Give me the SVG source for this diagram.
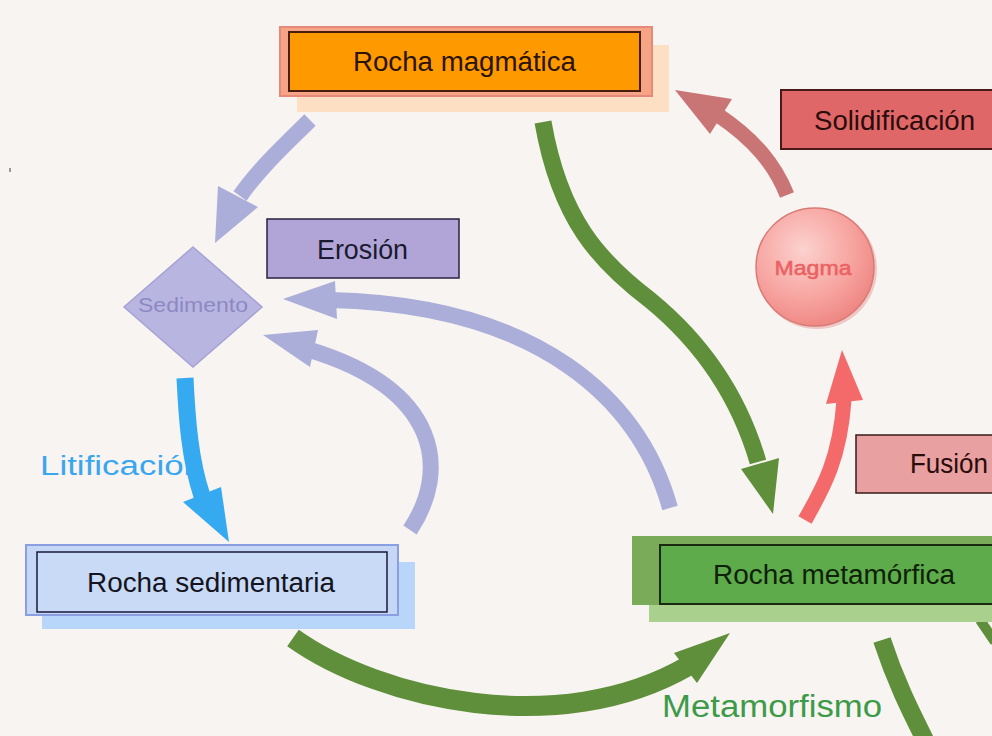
<svg xmlns="http://www.w3.org/2000/svg" width="992" height="736" viewBox="0 0 992 736">
<defs>
<style>
.t{font-family:"Liberation Sans",Arial,sans-serif;font-size:27px;fill:#161616}
.lav{fill:none;stroke:#aaaed9;stroke-width:16}
.lavh{fill:#aaaed9}
.grn{fill:none;stroke:#5f8f3a;stroke-width:18}
.grnh{fill:#5f8f3a}
</style>
<radialGradient id="mg" cx="0.4" cy="0.35" r="0.7">
<stop offset="0" stop-color="#fcd2ce"/>
<stop offset="0.6" stop-color="#f7a4a0"/>
<stop offset="1" stop-color="#ee8480"/>
</radialGradient>
</defs>
<rect width="992" height="736" fill="#f8f4f1"/>
<rect x="9" y="168" width="2" height="4" fill="#999"/>

<g id="connectors">
<!-- magmatica -> sedimento -->
<path class="lav" d="M310 120 C290 140 262 165 240 196"/>
<polygon class="lavh" points="218,186 258,207 215,243"/>
<!-- erosion big arc -->
<path class="lav" d="M670 508 C640 400 540 305 330 300"/>
<polygon class="lavh" points="335,281 337,319 283,299"/>
<!-- erosion small arc -->
<path class="lav" d="M410 530 C450 470 440 390 310 350"/>
<polygon class="lavh" points="318,330 310,367 263,335"/>
<!-- magmatica -> metamorfica -->
<path class="grn" d="M543 122 C560 220 600 262 650 300 C705 345 740 400 758 462" style="stroke-width:17"/>
<polygon class="grnh" points="741,469 779,458 773,514"/>
<!-- solidificacion -->
<path d="M787 195 C775 165 755 140 718 115" fill="none" stroke="#c97575" stroke-width="15"/>
<polygon points="710,134 732,99 675,90" fill="#c97575"/>
<!-- fusion -->
<path d="M805 520 C822 490 840 460 844 400" fill="none" stroke="#f46a6a" stroke-width="15"/>
<polygon points="826,404 863,400 842,350" fill="#f46a6a"/>
<!-- metamorfismo -->
<path class="grn" d="M293 638 C380 700 560 740 688 666" style="stroke-width:20"/>
<polygon class="grnh" points="674,653 697,683 730,633"/>
<!-- metamorfica down -->
<path class="grn" d="M882 640 C895 680 910 710 925 740"/>
<path class="grn" d="M980 620 L995 642" style="stroke-width:10"/>
<!-- litificacion -->
<text x="40" y="475" class="t" style="fill:#3aa6ee" textLength="163" lengthAdjust="spacingAndGlyphs">Litificación</text>
<path d="M185 378 C187 420 190 460 202 496" fill="none" stroke="#35aaf0" stroke-width="17"/>
<polygon points="183,502 221,487 229,542" fill="#35aaf0"/>
<text x="662" y="717" class="t" style="fill:#3d9a48;font-size:31px" textLength="220" lengthAdjust="spacingAndGlyphs">Metamorfismo</text>
</g>

<g id="node-magmatica">
<rect x="297" y="45" width="372" height="67" fill="#fde0c4"/>
<rect x="280" y="27" width="372" height="69" fill="#f5a486" stroke="#e6897a" stroke-width="2"/>
<rect x="289" y="32" width="351" height="59" fill="#ff9900" stroke="#4a1c10" stroke-width="2"/>
<text x="464.5" y="71" class="t" text-anchor="middle" style="fill:#2a1408" textLength="223" lengthAdjust="spacingAndGlyphs">Rocha magmática</text>
</g>

<g id="node-solidificacion">
<rect x="781" y="90" width="222" height="59" fill="#e06767" stroke="#4a1818" stroke-width="2"/>
<text x="814" y="130" class="t" style="fill:#2a0c0c" textLength="161" lengthAdjust="spacingAndGlyphs">Solidificación</text>
</g>

<g id="node-erosion">
<rect x="267" y="219" width="192" height="59" fill="#b1a5d7" stroke="#2a2040" stroke-width="1.5"/>
<text x="362.5" y="259" class="t" text-anchor="middle" style="fill:#1a1a30" textLength="91" lengthAdjust="spacingAndGlyphs">Erosión</text>
</g>

<g id="node-sedimento">
<polygon points="193,247 262,307 193,367 124,307" fill="#b9b5e1" stroke="#a5a2d6" stroke-width="1.5"/>
<text x="193" y="312" class="t" text-anchor="middle" style="fill:#8c89c2;font-size:20px" textLength="110" lengthAdjust="spacingAndGlyphs">Sedimento</text>
</g>

<g id="node-magma">
<circle cx="817" cy="269" r="60" fill="#edc8c4"/>
<circle cx="815" cy="267" r="59" fill="url(#mg)" stroke="#d97a76" stroke-width="1.5"/>
<text x="813" y="275" class="t" text-anchor="middle" style="fill:#ec6262;font-size:21px" stroke="#ec6262" stroke-width="0.6" textLength="77" lengthAdjust="spacingAndGlyphs">Magma</text>
</g>

<g id="node-sedimentaria">
<rect x="42" y="562" width="373" height="67" fill="#b7d6f9"/>
<rect x="26" y="545" width="372" height="70" fill="#c5d7f5" stroke="#8a9ee2" stroke-width="2"/>
<rect x="37" y="552" width="350" height="60" fill="#c8daf6" stroke="#1a1a3a" stroke-width="1.5"/>
<text x="211" y="592" class="t" text-anchor="middle" style="fill:#141420" textLength="248" lengthAdjust="spacingAndGlyphs">Rocha sedimentaria</text>
</g>

<g id="node-fusion">
<rect x="856" y="435" width="150" height="58" fill="#e8a0a0" stroke="#3a1a1a" stroke-width="1.5"/>
<text x="910" y="473" class="t" style="fill:#2a0c0c" textLength="78" lengthAdjust="spacingAndGlyphs">Fusión</text>
</g>

<g id="node-metamorfica">
<rect x="649" y="553" width="360" height="69" fill="#a9d08c"/>
<rect x="632" y="536" width="370" height="69" fill="#7aab58"/>
<rect x="660" y="545" width="350" height="59" fill="#5dab4a" stroke="#1a2a10" stroke-width="2"/>
<text x="713" y="584" class="t" style="fill:#0f1f08" textLength="242" lengthAdjust="spacingAndGlyphs">Rocha metamórfica</text>
</g>
</svg>
